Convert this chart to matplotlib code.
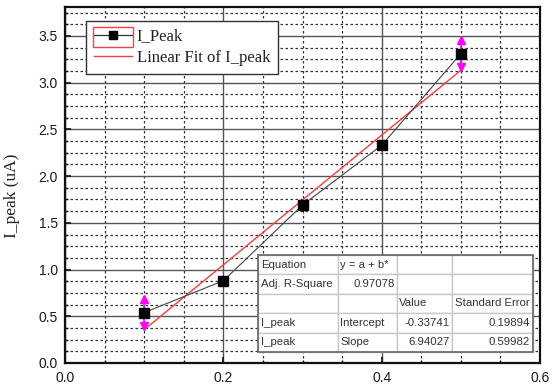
import matplotlib
matplotlib.use("Agg")
import matplotlib.pyplot as plt
import numpy as np
from matplotlib.ticker import MultipleLocator
from matplotlib.patches import Rectangle
from matplotlib.lines import Line2D

# ---- data ----
x_vals = [0.1, 0.2, 0.3, 0.4, 0.5]
y_vals = [0.54, 0.88, 1.69, 2.33, 3.31]
y_err = [0.18, 0.0, 0.0, 0.0, 0.18]
fit_intercept = -0.33741
fit_slope = 6.94027

table_rows = [
    ["Equation", "y = a + b*", "", ""],
    ["Adj. R-Square", "0.97078", "", ""],
    ["", "", "Value", "Standard Error"],
    ["I_peak", "Intercept", "-0.33741", "0.19894"],
    ["I_peak", "Slope", "6.94027", "0.59982"],
]
x_ticks = [0.0, 0.2, 0.4, 0.6]
y_ticks = [0.0, 0.5, 1.0, 1.5, 2.0, 2.5, 3.0, 3.5]

W, H = 554, 387
fig = plt.figure(figsize=(W / 100, H / 100), dpi=100)
L, R, B, T = 65, 540, 363, 7
ax = fig.add_axes([L / W, (H - B) / H, (R - L) / W, (B - T) / H])

ax.set_xlim(0, 0.6)
ax.set_ylim(0, 3.81)
ax.set_xticks(x_ticks)
ax.set_yticks(y_ticks)
ax.xaxis.set_minor_locator(MultipleLocator(0.05))
ax.yaxis.set_minor_locator(MultipleLocator(0.125))
ax.set_xticklabels([f"{v:.1f}" for v in x_ticks])
ax.set_yticklabels([f"{v:.1f}" for v in y_ticks])

ax.grid(which="major", color="#555555", linewidth=1.0, linestyle="-", zorder=0)
ax.grid(which="minor", color="#333333", linewidth=0.9, linestyle=(0, (2, 2)), zorder=0)
ax.set_axisbelow(True)

for s in ax.spines.values():
    s.set_linewidth(1.6)
    s.set_color("#111111")

ax.tick_params(which="both", direction="in", top=False, right=False, colors="#111111",
               labelcolor="#1a1a1a", labelsize=10)
ax.tick_params(which="major", length=4, width=1.2)
ax.tick_params(which="minor", length=2, width=1.0)
for lab in ax.get_xticklabels() + ax.get_yticklabels():
    lab.set_family(["Liberation Sans", "DejaVu Sans"])
ax.tick_params(axis="x", pad=6)
ax.tick_params(axis="y", pad=5)

# fit line
fx = np.array([x_vals[0], x_vals[-1]])
ax.plot(fx, fit_intercept + fit_slope * fx, color="#ff3b3b", linewidth=1.0, zorder=3)

# data line and markers
ax.plot(x_vals, y_vals, color="#444444", linewidth=0.8, zorder=4)
ax.plot(x_vals, y_vals, linestyle="none", marker="s", markersize=7,
        color="black", zorder=5)

# error bars (magenta arrows)
xe = [xv for xv, e in zip(x_vals, y_err) if e > 0]
ye = [yv for yv, e in zip(y_vals, y_err) if e > 0]
ee = [e for e in y_err if e > 0]
ax.errorbar(xe, ye, yerr=ee, fmt="none", ecolor="#ff00ff", elinewidth=1.2,
            capsize=0, zorder=4)
ax.plot(xe, np.array(ye) + np.array(ee) - 0.035, linestyle="none", marker="^",
        markersize=6, color="#ff00ff", zorder=6)
ax.plot(xe, np.array(ye) - np.array(ee) + 0.035, linestyle="none", marker="v",
        markersize=6, color="#ff00ff", zorder=6)

ax.set_ylabel("I_peak (uA)", family=["Liberation Serif", "DejaVu Serif"],
              fontsize=12.5, color="#222222")
ax.yaxis.set_label_coords(-0.095, 0.47)

# legend
handles = [
    Line2D([], [], color="#333333", linewidth=0.9, marker="s", markersize=6,
           markerfacecolor="black", markeredgecolor="black"),
    Line2D([], [], color="#ff3b3b", linewidth=1.0),
]
leg = ax.legend(handles, ["I_Peak", "Linear Fit of I_peak"],
                loc="upper left", bbox_to_anchor=((86 - L) / (R - L), (B - 21) / (B - T)),
                prop={"family": ["Liberation Serif", "DejaVu Serif"], "size": 12},
                frameon=True, fancybox=False, edgecolor="#333333", framealpha=1,
                handlelength=2.3, handletextpad=0.3, borderpad=0.45, labelspacing=0.35,
                borderaxespad=0)
leg.get_frame().set_linewidth(1.0)
leg.set_zorder(10)
for t in leg.get_texts():
    t.set_color("#222222")

# red selection box around first legend handle
fig.patches.append(Rectangle((93 / W, (H - 47) / H), 40 / W, 20 / H,
                             transform=fig.transFigure, fill=False,
                             edgecolor="#ff4040", linewidth=1.0, zorder=11))

# table
col_w = [80, 59, 55, 81]
tl, tr, tt, tb = 258, 533, 255, 352
tbl = ax.table(cellText=table_rows,
               colWidths=[c / sum(col_w) for c in col_w],
               bbox=[(tl - L) / (R - L), (B - tb) / (B - T),
                     (tr - tl) / (R - L), (tb - tt) / (B - T)],
               cellLoc="left")
tbl.auto_set_font_size(False)
tbl.set_zorder(12)
right_cells = {(1, 1), (3, 2), (3, 3), (4, 2), (4, 3)}
for (r, c), cell in tbl.get_celld().items():
    cell.set_edgecolor("#c8c8c8")
    cell.set_linewidth(1.0)
    cell.set_facecolor("white")
    txt = cell.get_text()
    txt.set_fontsize(8.2)
    txt.set_family(["Liberation Sans", "DejaVu Sans"])
    txt.set_color("#333333")
    if (r, c) in right_cells:
        cell._loc = "right"
        txt.set_horizontalalignment("right")
    cell.PAD = 0.035
ax.add_patch(Rectangle(((tl - L) / (R - L), (B - tb) / (B - T)),
                       (tr - tl) / (R - L), (tb - tt) / (B - T),
                       transform=ax.transAxes, fill=False, edgecolor="#666666",
                       linewidth=1.2, zorder=13, clip_on=False))

fig.savefig("out.png", dpi=100)
